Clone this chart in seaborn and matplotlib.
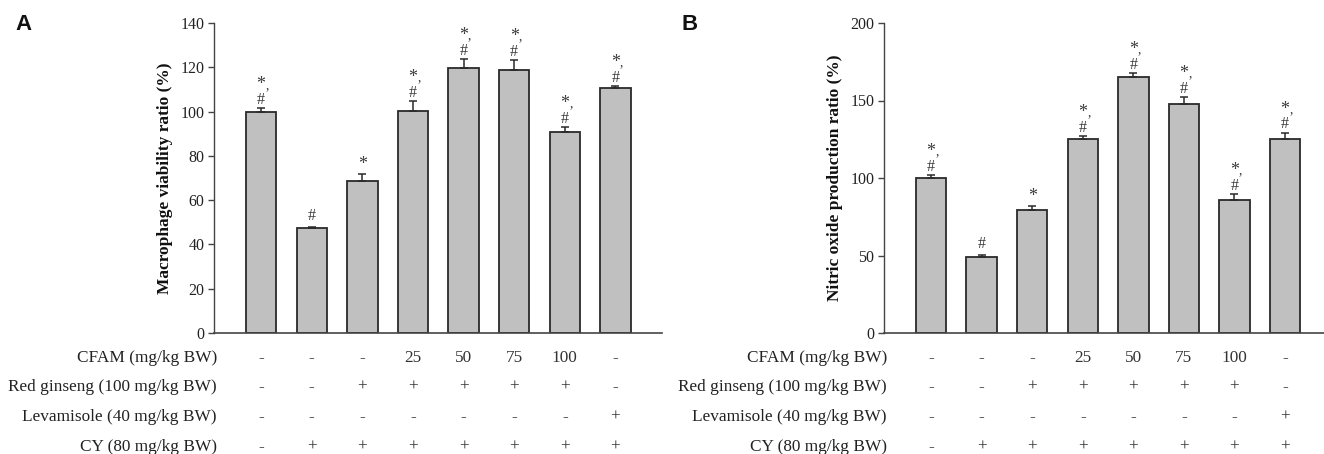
import matplotlib
matplotlib.use("Agg")
import matplotlib.pyplot as plt
import matplotlib.transforms as mtransforms
import numpy as np
import pandas as pd
import seaborn as sns

# ---------------- data ----------------
groups = ["G1", "G2", "G3", "G4", "G5", "G6", "G7", "G8"]

viability = [100.0, 47.6, 68.7, 100.2, 119.8, 118.8, 91.0, 110.5]
viability_err = [1.4, 0.3, 3.2, 4.6, 3.9, 4.4, 2.1, 0.9]

nitric = [100.0, 49.2, 79.5, 125.2, 165.0, 148.0, 85.5, 124.9]
nitric_err = [1.9, 1.1, 2.6, 2.0, 2.6, 4.3, 4.1, 4.3]

# significance marks: both (*, #), only "#", only "*"
sig = ["both", "#", "*", "both", "both", "both", "both", "both"]

row_labels = ["CFAM (mg/kg BW)", "Red ginseng (100 mg/kg BW)",
              "Levamisole (40 mg/kg BW)", "CY (80 mg/kg BW)"]
row_cfam = ["-", "-", "-", "25", "50", "75", "100", "-"]
row_ginseng = ["-", "-", "+", "+", "+", "+", "+", "-"]
row_levamisole = ["-", "-", "-", "-", "-", "-", "-", "+"]
row_cy = ["-", "+", "+", "+", "+", "+", "+", "+"]

ylabel_A = "Macrophage viability ratio (%)"
ylabel_B = "Nitric oxide production ratio (%)"
yticks_A = [0, 20, 40, 60, 80, 100, 120, 140]
yticks_B = [0, 50, 100, 150, 200]

# ---------------- style ----------------
sns.set_theme(style="white")
plt.rcParams["font.family"] = ["Liberation Serif", "DejaVu Serif"]
plt.rcParams["axes.edgecolor"] = "#444444"

W, H = 1324, 454
fig = plt.figure(figsize=(W / 100, H / 100), dpi=100)

BAR_FILL = "#c0c0c0"
EDGE = "#2a2a2a"
MARK = "#3a3a3a"


def px_axes(left, right, top, bottom):
    return fig.add_axes([left / W, 1 - bottom / H, (right - left) / W, (bottom - top) / H])


def panel(ax, values, errs, ylabel, yticks, ymax, xlim, letter, letter_x):
    df = pd.DataFrame({"group": groups, "value": values})
    sns.barplot(data=df, x="group", y="value", order=groups, color=BAR_FILL,
                edgecolor=EDGE, linewidth=1.3, width=0.6, saturation=1,
                errorbar=None, ax=ax)
    xs = np.arange(len(groups))
    ax.errorbar(xs, values, yerr=[np.zeros(len(errs)), errs], fmt="none",
                ecolor=EDGE, elinewidth=1.1, capsize=2.6, capthick=1.1, zorder=3)
    ax.set_xlim(*xlim)
    ax.set_ylim(0, ymax)
    ax.set_yticks(yticks)
    ax.set_yticklabels([str(t) for t in yticks], fontsize=11.5, color="#222222")
    ax.set_xticks([])
    ax.set_xlabel("")
    ax.set_ylabel(ylabel, fontsize=12.5, fontweight="bold", color="#111111", labelpad=5)
    ax.tick_params(axis="y", direction="out", length=4, width=1, color="#444444",
                   left=True, pad=3)
    for s in ["top", "right"]:
        ax.spines[s].set_visible(False)
    ax.spines["left"].set_linewidth(1.0)
    ax.spines["bottom"].set_linewidth(1.2)

    # significance annotations
    for x, v, e, s in zip(xs, values, errs, sig):
        top = v + e
        if s == "both":
            ax.annotate("#", (x, top), xytext=(0, 6), textcoords="offset points",
                        ha="center", va="center", fontsize=11.5, color=MARK)
            ax.annotate("*", (x, top), xytext=(0, 17), textcoords="offset points",
                        ha="center", va="center", fontsize=13, color=MARK)
            ax.annotate(",", (x, top), xytext=(4.3, 16.7), textcoords="offset points",
                        ha="center", va="center", fontsize=10, color=MARK)
        elif s == "#":
            ax.annotate("#", (x, top), xytext=(0, 8), textcoords="offset points",
                        ha="center", va="center", fontsize=11.5, color=MARK)
        else:
            ax.annotate("*", (x, top), xytext=(0, 7), textcoords="offset points",
                        ha="center", va="center", fontsize=13, color=MARK)

    # treatment table below axis
    trans_lab = mtransforms.offset_copy(ax.transAxes, fig=fig, x=3, y=0, units="dots")
    row_y = [-0.081, -0.174, -0.271, -0.368]
    rows = [row_cfam, row_ginseng, row_levamisole, row_cy]
    for lab, yy, vals in zip(row_labels, row_y, rows):
        ax.text(0.0, yy, lab, transform=trans_lab, ha="right", va="center",
                fontsize=12.4, color="#222222", clip_on=False)
        for x, t in zip(xs, vals):
            ax.text(x, yy, t, transform=ax.get_xaxis_transform(), ha="center",
                    va="center", fontsize=12.4, color="#333333", clip_on=False)

    fig.text(letter_x / W, 1 - 25 / H, letter, fontsize=16, fontweight="bold",
             family=["Liberation Sans", "DejaVu Sans"], ha="center", va="center",
             color="#111111")


axA = px_axes(214, 662, 23, 333)
panel(axA, viability, viability_err, ylabel_A, yticks_A, 140, (-0.93, 7.92), "A", 23)

axB = px_axes(884, 1324, 23, 333)
panel(axB, nitric, nitric_err, ylabel_B, yticks_B, 200, (-0.93, 7.77), "B", 690)

fig.savefig("out.png", dpi=100)
